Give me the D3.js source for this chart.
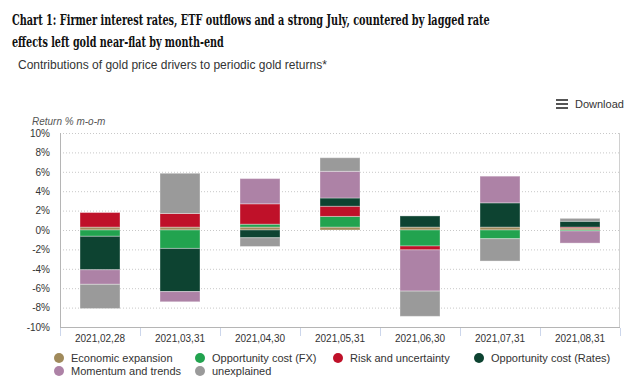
<!DOCTYPE html>
<html><head><meta charset="utf-8">
<script src="https://cdn.jsdelivr.net/npm/d3@7"></script>
<style>
html,body{margin:0;padding:0;background:#fff;}
svg{display:block;font-family:"Liberation Sans",Arial,sans-serif;}
</style></head>
<body>
<svg id="chart" width="640" height="379"></svg>
<script>
const categories = ["2021,02,28","2021,03,31","2021,04,30","2021,05,31","2021,06,30","2021,07,31","2021,08,31"];
const seriesNames = ["Economic expansion","Opportunity cost (FX)","Risk and uncertainty","Opportunity cost (Rates)","Momentum and trends","unexplained"];
const economicExpansion = [0.3, 0.3, 0.3, 0.3, 0.3, 0.3, 0.2];
const opportunityCostFX = [-0.65, -1.9, 0.3, 1.1, -1.65, -0.9, -0.1];
const riskUncertainty   = [1.5, 1.4, 2.1, 1.05, -0.4, 0, 0.1];
const opportunityCostRates = [-3.45, -4.45, -0.8, 0.85, 1.15, 2.5, 0.6];
const momentumTrends    = [-1.5, -1.05, 2.6, 2.75, -4.25, 2.75, -1.25];
const unexplained       = [-2.5, 4.15, -0.9, 1.4, -2.6, -2.3, 0.3];
const yTicks = [-10,-8,-6,-4,-2,0,2,4,6,8,10];
const colors = ["#a08a5b","#22a34f","#bf1129","#0d4331","#ad82a6","#9a9a9a"];

const seriesValues = [economicExpansion, opportunityCostFX, riskUncertainty, opportunityCostRates, momentumTrends, unexplained];
const table = categories.map((c,i)=>{const o={cat:c}; seriesNames.forEach((s,j)=>o[s]=seriesValues[j][i]); return o;});

const svg = d3.select("#chart");

// Title (scaled horizontally to the reference width)
function fitLine(txt, xx, yy, width){
  const t = svg.append("text").attr("font-family","'DejaVu Serif Condensed','DejaVu Serif',serif")
    .attr("font-weight","bold").attr("fill","#111").attr("font-size",15).text(txt);
  const len = t.node().getComputedTextLength();
  const sx = Math.min(1, width/len);
  t.attr("transform",`translate(${xx},${yy}) scale(${sx},1)`);
}
fitLine("Chart 1: Firmer interest rates, ETF outflows and a strong July, countered by lagged rate", 12, 25, 478);
fitLine("effects left gold near-flat by month-end", 12, 47, 212);
svg.append("text").attr("x",18).attr("y",69).attr("font-size",12).attr("fill","#333")
  .text("Contributions of gold price drivers to periodic gold returns*");

// Download button
const dl = svg.append("g");
[100,104,108].forEach(yy=>dl.append("rect").attr("x",556).attr("y",yy-1).attr("width",12).attr("height",2).attr("fill","#555"));
dl.append("text").attr("x",575).attr("y",108).attr("font-size",11).attr("fill","#333").text("Download");

const margin = {left:60, right:620, top:133, bottom:327};
const x = d3.scaleBand().domain(categories).range([margin.left, margin.right]).paddingInner(0.5).paddingOuter(0.25);
const y = d3.scaleLinear().domain([-10,10]).range([margin.bottom, margin.top]);

// gridlines
svg.append("g").selectAll("line").data(yTicks.filter(t=>t>-10)).join("line")
  .attr("x1",margin.left).attr("x2",margin.right)
  .attr("y1",d=>y(d)+0.5).attr("y2",d=>y(d)+0.5)
  .attr("stroke","#c8c8c8").attr("stroke-dasharray","1,2");

// y axis label
svg.append("text").attr("x",32).attr("y",125).attr("font-size",10).attr("font-style","italic").attr("fill","#555").text("Return % m-o-m");

// y axis
const yAxis = d3.axisLeft(y).tickValues(yTicks).tickFormat(d=>d+"%").tickSize(0).tickPadding(10);
const yg = svg.append("g").attr("transform",`translate(${margin.left},0)`).call(yAxis);
yg.select(".domain").remove();
yg.selectAll("text").attr("font-size",10).attr("fill","#333").attr("font-family","'Liberation Sans',Arial,sans-serif");

// frame lines
svg.append("line").attr("x1",margin.left+0.5).attr("x2",margin.left+0.5).attr("y1",margin.top).attr("y2",margin.bottom).attr("stroke","#b5b5b5");
svg.append("line").attr("x1",margin.right-0.5).attr("x2",margin.right-0.5).attr("y1",margin.top).attr("y2",margin.bottom).attr("stroke","#d0d0d0");
svg.append("line").attr("x1",margin.left).attr("x2",margin.right).attr("y1",margin.bottom+0.5).attr("y2",margin.bottom+0.5).attr("stroke","#b5b5b5");

// x axis
const xAxis = d3.axisBottom(x).tickSize(0).tickPadding(8);
const xg = svg.append("g").attr("transform",`translate(0,${margin.bottom})`).call(xAxis);
xg.select(".domain").remove();
xg.selectAll("text").attr("font-size",10).attr("fill","#333").attr("font-family","'Liberation Sans',Arial,sans-serif");
const half = (x.step()-x.bandwidth())/2;
const bounds = categories.map(c=>x(c)-half).concat([x(categories[categories.length-1])+x.bandwidth()+half]);
svg.append("g").selectAll("line").data(bounds).join("line")
  .attr("x1",d=>Math.round(d)+0.5).attr("x2",d=>Math.round(d)+0.5)
  .attr("y1",margin.bottom+1).attr("y2",margin.bottom+9)
  .attr("stroke","#ccd6eb");

// stacked bars
const stack = d3.stack().keys(seriesNames).order(d3.stackOrderNone).offset(d3.stackOffsetDiverging);
const stacked = stack(table);
svg.append("g").selectAll("g").data(stacked).join("g")
  .attr("fill",(d,i)=>colors[i])
  .selectAll("rect").data(d=>d.filter(p=>p[1]!==p[0])).join("rect")
  .attr("x",d=>x(d.data.cat))
  .attr("width",x.bandwidth())
  .attr("y",d=>y(Math.max(d[0],d[1])))
  .attr("height",d=>Math.abs(y(d[0])-y(d[1])))
  .attr("stroke","rgba(255,255,255,0.35)").attr("stroke-width",1);

// legend
const legendPos = [[59,358],[200,358],[338,358],[479,358],[59,371],[200,371]];
const lg = svg.append("g");
seriesNames.forEach((s,i)=>{
  const [lx,ly] = legendPos[i];
  lg.append("circle").attr("cx",lx).attr("cy",ly).attr("r",5).attr("fill",colors[i]);
  lg.append("text").attr("x",lx+12).attr("y",ly+4).attr("font-size",11).attr("fill","#333").text(s);
});
</script>
</body></html>
